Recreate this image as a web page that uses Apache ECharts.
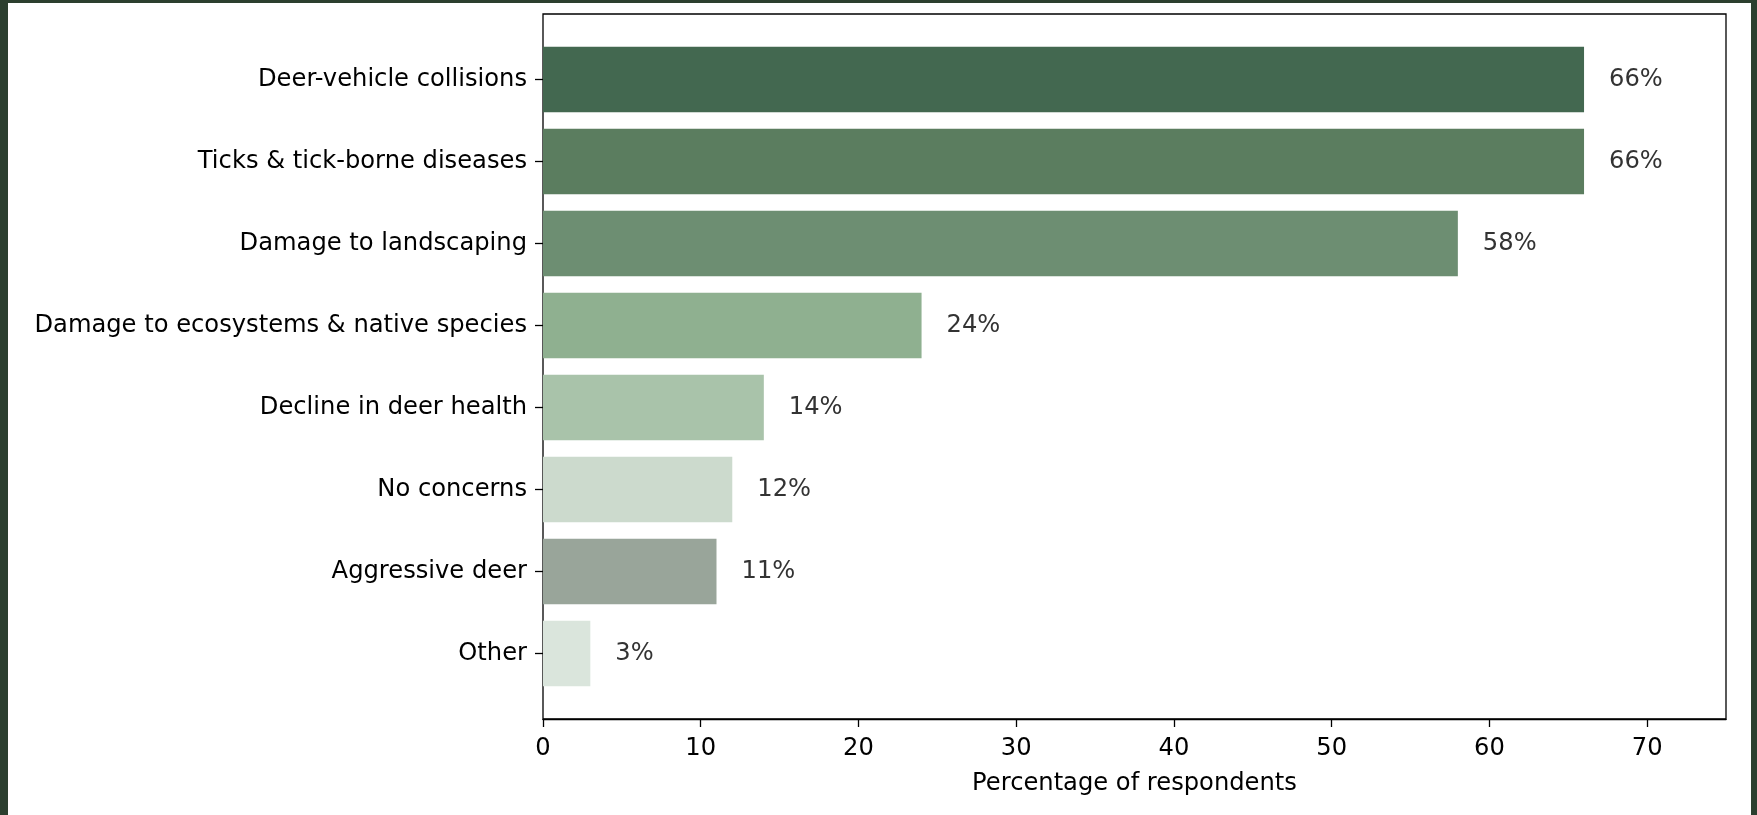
<!DOCTYPE html>
<html>
<head>
<meta charset="utf-8">
<script src="https://cdn.jsdelivr.net/npm/echarts@6/dist/echarts.min.js"></script>
<style>
  html, body { margin: 0; padding: 0; }
  #outer { position: relative; width: 1757px; height: 815px; background: #2c3f2f; overflow: hidden; }
  #paper { position: absolute; left: 8px; top: 3px; width: 1743px; height: 812px; background: #ffffff; }
  #chart { position: absolute; left: 0; top: 0; width: 1757px; height: 815px; }
</style>
</head>
<body>
<div id="outer">
  <div id="paper"></div>
  <div id="chart"></div>
</div>
<script>
const categories = [
  "Deer-vehicle collisions",
  "Ticks & tick-borne diseases",
  "Damage to landscaping",
  "Damage to ecosystems & native species",
  "Decline in deer health",
  "No concerns",
  "Aggressive deer",
  "Other"
];
const values = [66, 66, 58, 24, 14, 12, 11, 3];
const barColors = ["#436850", "#5b7d5f", "#6d8e72", "#8fb090", "#a9c3aa", "#ccdacd", "#99a59a", "#dae5dc"];
const xTicks = [0, 10, 20, 30, 40, 50, 60, 70];
const xName = "Percentage of respondents";

const FONT = "DejaVu Sans";
const FS = 24.2;
const chart = echarts.init(document.getElementById('chart'), null, { renderer: 'canvas' });
chart.setOption({
  backgroundColor: 'transparent',
  animation: false,
  grid: [
    { left: 543, right: 31, top: 14, bottom: 96, show: true, borderColor: '#000', borderWidth: 1.3, backgroundColor: 'transparent' },
    { left: 543, right: 31, top: 38.5, bottom: 120.5 }
  ],
  xAxis: [
    {
      type: 'value', gridIndex: 0, min: 0, max: 75, interval: 10,
      splitLine: { show: false },
      axisLine: { show: true, lineStyle: { color: '#000', width: 1.3 } },
      axisTick: { show: true, length: 8, lineStyle: { color: '#000', width: 1.3 }, customValues: xTicks },
      axisLabel: { color: '#000', fontFamily: FONT, fontSize: FS, margin: 18, customValues: xTicks },
      name: xName, nameLocation: 'middle', nameGap: 53,
      nameTextStyle: { color: '#000', fontFamily: FONT, fontSize: FS }
    },
    { type: 'value', gridIndex: 1, min: 0, max: 75, show: false }
  ],
  yAxis: [
    { type: 'value', gridIndex: 0, min: 0, max: 1, show: false },
    {
      type: 'category', gridIndex: 1, data: categories, inverse: true,
      axisLine: { show: false },
      axisTick: { show: true, alignWithLabel: true, length: 8, lineStyle: { color: '#000', width: 1.3 } },
      axisLabel: { color: '#000', fontFamily: FONT, fontSize: FS, margin: 16, padding: [4, 0, 0, 0] },
      splitLine: { show: false }
    }
  ],
  series: [
    {
      type: 'bar', xAxisIndex: 1, yAxisIndex: 1,
      barWidth: '80%',
      data: values.map((v, i) => ({ value: v, itemStyle: { color: barColors[i] } })),
      label: {
        show: true, position: 'right', distance: 25, padding: [3, 0, 0, 0],
        formatter: '{c}%', color: '#333333', fontFamily: FONT, fontSize: FS
      }
    }
  ]
});
</script>
</body>
</html>
